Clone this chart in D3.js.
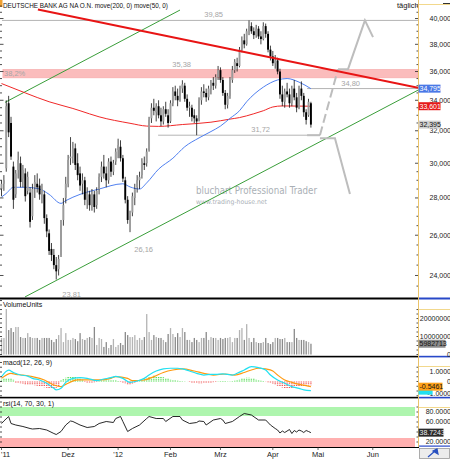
<!DOCTYPE html>
<html>
<head>
<meta charset="utf-8">
<script src="https://cdn.jsdelivr.net/npm/d3@7"></script>
<style>
body { margin: 0; background: #fff; }
svg { display: block; }
</style>
</head>
<body>
<div id="chart"></div>
<script>
// daily candles [open, high, low, close], index = trading day
const ohlc = [
  [28.5,29.0,28.1,28.8],[28.8,29.3,28.4,29.0],[29.7,34.0,29.5,33.6],[33.8,34.3,31.6,31.9],[32.5,32.9,30.2,30.4],
  [29.8,30.1,27.4,27.9],[28.2,29.6,28.0,29.4],[29.6,30.7,29.1,30.2],[30.0,30.4,28.6,28.9],[29.1,29.9,28.6,29.6],
  [29.4,29.7,27.8,28.1],[28.4,29.5,28.2,29.2],[28.3,28.6,26.4,26.7],[27.0,28.8,26.8,28.5],[28.6,29.3,28.0,28.9],
  [28.8,29.4,28.3,28.6],[28.7,29.1,27.9,28.2],[28.3,28.8,27.7,28.5],[28.2,28.4,26.6,26.9],[26.9,27.1,25.9,26.2],
  [26.1,26.3,25.0,25.2],[25.3,25.6,24.7,25.0],[25.0,25.3,24.3,24.5],[24.5,24.9,23.81,24.2],[24.3,25.0,24.0,24.8],
  [25.0,26.8,24.9,26.5],[26.8,28.0,26.5,27.6],[28.0,29.2,27.7,28.8],[28.8,30.5,28.6,30.2],[30.3,31.6,29.9,30.4],
  [30.4,31.3,30.0,30.9],[30.9,31.2,29.6,29.9],[30.0,30.6,29.0,29.3],[29.4,29.8,28.4,28.7],[28.8,29.4,28.2,29.0],
  [29.0,29.2,27.6,27.9],[27.9,28.6,27.4,28.3],[28.2,28.4,27.3,27.6],[27.6,28.5,27.3,28.2],[28.2,28.4,27.2,27.5],
  [27.6,28.6,27.4,28.4],[28.5,29.4,28.2,29.2],[29.2,30.1,28.9,29.8],[29.8,30.5,29.1,29.4],[29.4,29.8,28.6,29.0],
  [29.0,30.3,28.8,30.1],[30.1,30.4,29.2,29.5],[29.5,30.2,29.3,30.0],[30.1,30.9,29.9,30.7],[30.8,31.5,30.3,31.1],
  [31.0,31.4,30.1,30.3],[30.3,30.5,28.9,29.1],[29.0,29.2,27.7,27.9],[27.9,28.1,26.6,26.8],[26.8,27.3,26.16,27.0],
  [27.2,28.3,27.0,28.1],[28.0,28.8,27.6,28.5],[28.6,29.3,28.3,29.0],[29.0,29.5,28.5,29.2],[29.3,30.3,29.1,30.1],
  [30.0,30.4,29.6,29.9],[30.0,30.9,29.8,30.7],[30.8,32.9,30.7,32.7],[32.8,33.8,32.5,33.5],[33.5,34.1,33.0,33.3],
  [33.2,33.8,32.6,33.6],[33.6,34.0,32.8,33.0],[33.0,33.5,32.3,32.6],[32.6,33.6,32.4,33.4],[33.4,33.9,32.9,33.1],
  [33.0,33.4,32.2,32.5],[32.6,34.0,32.5,33.8],[33.8,34.9,33.6,34.6],[34.6,35.0,34.0,34.3],[34.3,34.8,33.6,34.0],
  [34.0,35.0,33.9,34.8],[34.8,35.38,34.5,35.1],[35.0,35.2,33.9,34.1],[34.1,34.4,33.3,33.5],[33.5,33.9,32.9,33.6],
  [33.5,33.7,32.6,32.9],[33.0,33.4,32.5,32.8],[32.8,33.0,31.72,32.6],[32.7,34.2,32.6,34.0],[34.0,34.9,33.7,34.6],
  [34.6,35.1,34.2,34.5],[34.5,34.8,33.9,34.2],[34.2,35.0,34.0,34.8],[34.8,35.4,34.4,35.2],[35.2,35.6,34.7,35.0],
  [35.0,35.8,34.8,35.6],[35.6,36.4,35.4,36.1],[36.1,36.3,35.2,35.4],[35.4,35.6,34.3,34.5],[34.5,34.7,33.4,33.7],
  [33.7,34.5,33.45,34.3],[34.3,35.6,34.1,35.4],[35.4,36.4,35.2,36.1],[36.1,36.9,35.9,36.7],[36.6,37.0,36.0,36.4],
  [36.4,37.8,36.3,37.6],[37.6,38.6,37.4,38.3],[38.3,38.8,37.7,38.0],[38.0,39.2,37.9,39.0],[39.0,39.85,38.7,39.4],
  [39.4,39.7,38.8,39.0],[39.0,39.3,38.4,38.7],[38.7,39.5,38.5,39.2],[39.2,39.4,38.4,38.6],[38.6,39.0,38.0,38.4],
  [38.4,39.7,38.3,39.4],[39.4,39.6,38.5,38.8],[38.8,39.0,37.4,37.6],[37.6,37.9,36.8,37.1],[37.1,37.5,36.4,36.6],
  [36.6,37.2,36.2,36.8],[36.8,37.0,35.8,36.0],[36.0,36.2,34.1,34.4],[34.4,35.0,33.6,33.9],[33.9,34.8,33.5,34.6],
  [34.6,35.2,34.2,34.4],[34.4,34.8,33.5,33.8],[33.8,35.0,33.6,34.8],[34.8,35.4,34.0,34.2],[34.2,34.5,33.2,33.5],
  [33.5,35.0,33.4,34.8],[34.8,35.3,34.0,34.3],[34.3,34.5,32.9,33.2],[33.2,33.4,32.4,32.7],[33.0,34.1,32.9,33.9],
  [33.8,33.9,32.2,32.395]
];

// volume in millions
const volume = [
  9.2,9.2,25.3,13.6,14.7,12.5,15.3,15.3,9.7,9.2,9.2,11.9,9.7,9.2,9.2,9.2,8.1,9.2,9.2,9.2,
  9.2,8.1,6.9,8.6,10.8,14.7,6.9,11.9,8.1,8.1,9.2,8.6,7.4,11.9,8.6,8.1,9.2,9.7,9.2,15.3,
  5.3,9.2,8.6,4.2,6.9,3.6,5.3,8.6,4.2,5.3,6.4,5.3,12.5,10.8,9.7,9.7,10.8,8.1,9.2,8.1,
  9.7,22.5,12.5,8.1,10.8,9.7,9.2,9.2,8.1,6.9,11.4,14.7,11.4,9.7,11.9,9.7,14.7,12.5,8.1,8.1,
  6.9,9.2,8.1,6.9,9.2,9.2,12.5,8.1,9.7,9.2,9.2,8.1,9.2,8.6,
  9.2,9.2,9.7,6.9,9.2,9.2,13.6,14.7,8.1,16.9,9.2,6.9,9.2,6.9,6.4,6.4,6.9,9.2,6.4,5.8,
  6.9,9.2,9.2,8.6,8.6,9.2,6.9,6.9,6.9,14.2,9.2,8.1,8.1,8.1,7.4,6.9,5.98
];

// moving averages [day, value]
const ma200 = [[0,35.15],[10,34.5],[20,33.9],[30,33.45],[33,33.3],[41,32.9],[54,32.48],[61,32.3],[66,32.28],
  [76,32.4],[88,32.55],[96,32.75],[100,32.85],[106,33.1],[110,33.3],[114,33.55],[118,33.62],[130,33.601]];
const ma50 = [[0,28.05],[2,28.25],[5,28.6],[10,28.6],[16,28.5],[20,28.2],[25,27.7],[27,27.85],[33,28.2],
  [41,28.5],[51,28.8],[54,28.62],[58,28.5],[61,28.85],[66,29.65],[72,30.3],[77,31.0],[83,31.55],[88,31.95],
  [92,32.3],[96,32.8],[100,33.3],[103,33.9],[110,34.9],[116,35.4],[120,35.5],[125,35.25],[130,34.795]];

// drawn trend lines [day, price]
const trendRed = [[15.3,40.72],[175,34.85]];
const channelUpper = [[1.5,33.86],[75,40.68]];
const channelLower = [[9.9,23.0],[175,34.69]];
const projUp = [[128.4,31.72],[133.8,31.72],[141.4,36.17],[145.6,36.17],[152.7,39.85],[156.1,38.55]];
const projDown = [[133.8,31.53],[140.1,31.53],[146.4,28.22]];

// horizontal marks
const levels = [
  {v: 39.85, from: 0.2, to: 175, label: "39,85", lx: 223},
  {v: 31.72, from: 65.8, to: 133.8, label: "31,72", lx: 270},
  {v: 34.80, from: 128.4, to: 175, label: "34,80", lx: 360}
];
const fibBand = [35.55, 36.15];
const priceNotes = [["35,38", 191, 36.3], ["26,16", 153, 25.15], ["23,81", 81, 23.0]];

// indicators
const macdLine = [[0,0.5],[3,1.2],[5,0.95],[8,0.68],[11,0.57],[13,0.33],[16,0.16],[19,-0.19],[22,-0.72],
  [23,-0.89],[25,-0.72],[27,-0.09],[30,0.33],[33,0.4],[36,0.33],[40,0.09],[43,0.26],[46,0.4],[48,0.54],
  [51,0.33],[54,-0.09],[57,0.05],[60,0.33],[62,0.68],[65,1.1],[68,1.32],[71,1.39],[74,1.39],[76,1.32],
  [79,1.1],[82,0.86],[85,0.68],[88,0.75],[90,0.75],[93,0.8],[97,0.68],[99,0.86],[102,1.21],[105,1.56],
  [108,1.46],[111,1.21],[113,0.68],[116,0.16],[119,-0.19],[122,-0.54],[125,-0.72],[127,-0.89],[130,-0.96]];
const macdSignal = [[0,0.33],[4,0.86],[6,0.75],[9,0.68],[13,0.51],[18,0.16],[22,-0.37],[25,-0.54],[27,-0.3],
  [32,0.16],[36,0.16],[41,0.16],[46,0.33],[48,0.51],[53,0.33],[55,0.09],[60,0.16],[64,0.51],[68,0.95],
  [72,1.21],[76,1.32],[81,1.1],[85,0.86],[89,0.68],[94,0.79],[98,0.68],[102,0.95],[105,1.21],[108,1.39],
  [111,1.32],[114,1.1],[116,0.68],[119,0.16],[122,-0.09],[125,-0.3],[128,-0.44],[130,-0.5461]];
const macdHist = [
  0.2,0.3,0.35,0.35,0.3,0.2,
  -0.1,-0.15,-0.2,-0.25,-0.3,-0.3,-0.3,-0.35,-0.4,-0.45,-0.5,-0.55,-0.6,-0.65,-0.7,-0.72,-0.72,-0.65,-0.5,
  0.1,0.25,0.4,0.5,0.55,0.55,0.5,0.4,0.3,0.2,
  -0.05,-0.1,-0.12,-0.1,-0.08,-0.05,
  0.05,0.1,0.15,0.18,0.2,0.18,0.15,0.1,0.05,
  -0.05,-0.12,-0.2,-0.28,-0.3,-0.25,-0.15,-0.05,
  0.05,0.15,0.25,0.35,0.45,0.55,0.6,0.6,0.55,0.5,0.45,0.35,0.3,0.2,0.15,
  0.1,0.08,0.05,0.04,0.02,0.0,
  -0.05,-0.1,-0.15,-0.18,-0.2,-0.2,-0.18,-0.15,-0.12,-0.1,-0.07,-0.05,
  0.03,0.05,0.05,0.04,0.03,
  0.03,0.05,0.08,
  0.12,0.2,0.28,0.35,0.4,0.4,0.35,0.3,0.22,0.15,
  0.08,0.04,-0.02,
  -0.08,-0.15,-0.25,-0.35,-0.45,-0.55,-0.62,-0.68,-0.7,-0.7,-0.68,-0.65,-0.6,-0.55,-0.5,-0.48,-0.45,-0.42,-0.4
];
const rsi = [[0,57],[1,62],[3,71],[4,57],[6,54],[9,51],[12,47],[13,46],[16,47],[19,44],[22,37],[23,35],[25,41],
  [27,54],[29,62],[30,61],[33,54],[36,49],[39,51],[41,57],[44,61],[47,59],[48,67],[50,71],[51,61],[53,41],
  [55,47],[58,54],[61,67],[62,71],[65,67],[68,67],[69,61],[72,71],[75,71],[76,64],[79,57],[82,59],[83,62],
  [85,61],[86,54],[89,64],[92,67],[93,64],[94,57],[97,61],[100,71],[102,77],[105,74],[108,64],[111,64],
  [113,54],[115,47],[116,44],[117,38],[118,42],[119,39],[121,45],[122,37],[123,43],[124,40],[125,44],
  [126,42],[127,39],[128,43],[129,41],[130,38.7]];
const rsiBands = [[72, 90, "#aef5ae"], [10, 28, "#ffb0b0"]];

// axis ticks
const monthTicks = [["'11", 0], ["Dez", 28], ["'12", 49], ["Feb", 71], ["Mrz", 92], ["Apr", 114], ["Mai", 133], ["Jun", 156]];
const priceTicks = [24, 26, 28, 30, 32, 34, 36, 38, 40];
const volTicks = [[0, "0"], [10, "10000000"], [20, "20000000"]];
const macdTicks = [[1, "1.0000"], [0, "0"], [-1.25, "-1.0000"]];
const rsiTicks = [[80, "80.0000"], [60, "60.0000"], [20, "20.0000"]];

const W = 450, H = 459, PR = 418;
const FONT = '"Liberation Sans", Arial, sans-serif';

const svg = d3.select("#chart").append("svg")
    .attr("width", W).attr("height", H)
    .style("font-family", FONT);
svg.append("rect").attr("width", W).attr("height", H).attr("fill", "#fff");

const x = d3.scaleLinear().domain([0, 175]).range([1.5, PR]);
const y = d3.scaleLog().domain([22.95, 41.5]).range([298, 0]);
const yVol = d3.scaleLinear().domain([0, 30.3]).range([354.5, 300]);
const yMacd = d3.scaleLinear().domain([-1.63, 2.47]).range([397, 358]);
const yRsi = d3.scaleLinear().domain([10, 108]).range([447, 398]);

const defs = svg.append("defs");
function clip(id, top, bottom) {
    defs.append("clipPath").attr("id", id).append("rect")
        .attr("x", 0).attr("y", top).attr("width", PR).attr("height", bottom - top);
    return svg.append("g").attr("clip-path", "url(#" + id + ")");
}
const main = clip("cMain", 0, 298);
const volG = clip("cVol", 300, 356);
const macdG = clip("cMacd", 358, 397);
const rsiG = clip("cRsi", 399, 447);

// ---- main panel
main.append("rect")
    .attr("x", x(0.6)).attr("width", PR - x(0.6))
    .attr("y", y(fibBand[1])).attr("height", y(fibBand[0]) - y(fibBand[1]))
    .attr("fill", "#fbbcbc").attr("stroke", "#f6a8a8").attr("stroke-width", 0.6);

main.selectAll(".lvl").data(levels).join("line")
    .attr("x1", d => x(d.from)).attr("x2", d => x(d.to))
    .attr("y1", d => y(d.v)).attr("y2", d => y(d.v))
    .attr("stroke", "#b4b4b4").attr("stroke-width", 1);

const gridText = "#a6a6a6";
main.selectAll(".lvlText").data(levels).join("text")
    .attr("x", d => d.lx).attr("y", d => y(d.v) - 3)
    .attr("text-anchor", "end").attr("font-size", 7.5).attr("fill", gridText)
    .text(d => d.label);
main.selectAll(".note").data(priceNotes).join("text")
    .attr("x", d => d[1]).attr("y", d => y(d[2]))
    .attr("text-anchor", "end").attr("font-size", 7.5).attr("fill", gridText)
    .text(d => d[0]);
main.append("text").attr("x", 4).attr("y", y(fibBand[0]) - 1.5)
    .attr("font-size", 7.5).attr("fill", gridText).text("38,2%");

// watermark
main.append("text").attr("x", 196).attr("y", 194)
    .attr("font-family", "DejaVu Sans").attr("font-size", 10).attr("fill", "#aab0b6")
    .attr("textLength", 121).attr("lengthAdjust", "spacingAndGlyphs")
    .text("bluchart Professional Trader");
main.append("text").attr("x", 196).attr("y", 203.5)
    .attr("font-family", "DejaVu Sans").attr("font-size", 6.5).attr("fill", "#aab0b6")
    .attr("textLength", 71).attr("lengthAdjust", "spacingAndGlyphs")
    .text("www.trading-house.net");

const pline = d3.line().x(d => x(d[0])).y(d => y(d[1]));
const smooth = d3.line().x(d => x(d[0])).y(d => y(d[1])).curve(d3.curveMonotoneX);

main.append("path").attr("d", pline(channelUpper)).attr("fill", "none")
    .attr("stroke", "#3a9e3a").attr("stroke-width", 1);
main.append("path").attr("d", pline(channelLower)).attr("fill", "none")
    .attr("stroke", "#3a9e3a").attr("stroke-width", 1);
main.append("path").attr("d", smooth(ma200)).attr("fill", "none")
    .attr("stroke", "#f02828").attr("stroke-width", 1);
main.append("path").attr("d", smooth(ma50)).attr("fill", "none")
    .attr("stroke", "#5080f0").attr("stroke-width", 1);

// projection
main.append("path").attr("d", pline(projUp.slice(0, 2))).attr("fill", "none")
    .attr("stroke", "#bdbdbd").attr("stroke-width", 2);
main.append("path").attr("d", pline(projUp.slice(1, 3))).attr("fill", "none")
    .attr("stroke", "#bdbdbd").attr("stroke-width", 2).attr("stroke-dasharray", "9,4");
main.append("path").attr("d", pline(projUp.slice(2))).attr("fill", "none")
    .attr("stroke", "#bdbdbd").attr("stroke-width", 2);
main.append("path").attr("d", pline(projDown)).attr("fill", "none")
    .attr("stroke", "#bdbdbd").attr("stroke-width", 2);

// candles
main.selectAll(".wick").data(ohlc).join("line")
    .attr("x1", (d, i) => x(i)).attr("x2", (d, i) => x(i))
    .attr("y1", d => y(d[1])).attr("y2", d => y(d[2]))
    .attr("stroke", "#111").attr("stroke-width", 0.8);
main.selectAll(".body").data(ohlc).join("rect")
    .attr("x", (d, i) => x(i) - 0.95).attr("width", 1.9)
    .attr("y", d => y(Math.max(d[0], d[3])))
    .attr("height", d => Math.max(0.8, Math.abs(y(d[0]) - y(d[3]))))
    .attr("fill", d => d[3] >= d[0] ? "#9c9c9c" : "#000");

main.append("path").attr("d", pline(trendRed)).attr("fill", "none")
    .attr("stroke", "#e81414").attr("stroke-width", 2);

// title
svg.append("rect").attr("x", 0).attr("y", 0).attr("width", 2.5).attr("height", 7).attr("fill", "#f0a030");
svg.append("text").attr("x", 3).attr("y", 7.5).attr("font-size", 7.5).attr("fill", "#111")
    .attr("textLength", 165).attr("lengthAdjust", "spacingAndGlyphs")
    .text("DEUTSCHE BANK AG NA O.N. move(200, 0) move(50, 0)");
svg.append("text").attr("x", 397).attr("y", 7.5).attr("font-size", 7.5).attr("fill", "#111").text("täglich");
svg.append("line").attr("x1", 443).attr("x2", 450).attr("y1", 3.5).attr("y2", 3.5).attr("stroke", "#333");

// ---- volume
volG.selectAll("rect").data(volume).join("rect")
    .attr("x", (d, i) => x(i) - 0.6).attr("width", 1.3)
    .attr("y", d => yVol(d)).attr("height", d => yVol(0) - yVol(d))
    .attr("fill", (d, i) => ohlc[i][3] >= ohlc[i][0] ? "#b4b4b4" : "#8a8a8a");
svg.append("text").attr("x", 3).attr("y", 307).attr("font-size", 7).attr("fill", "#111").text("VolumeUnits");

// ---- macd
macdG.selectAll("line").data(macdHist).join("line")
    .attr("x1", (d, i) => x(i)).attr("x2", (d, i) => x(i))
    .attr("y1", yMacd(0)).attr("y2", d => yMacd(d))
    .attr("stroke", d => d >= 0 ? "#55dd55" : "#f05a5a")
    .attr("stroke-width", 1.4).attr("stroke-dasharray", "1,0.8");
const mline = d3.line().x(d => x(d[0])).y(d => yMacd(d[1])).curve(d3.curveMonotoneX);
macdG.append("path").attr("d", mline(macdSignal)).attr("fill", "none")
    .attr("stroke", "#ff9a10").attr("stroke-width", 1.2);
macdG.append("path").attr("d", mline(macdLine)).attr("fill", "none")
    .attr("stroke", "#22e0f0").attr("stroke-width", 1.2);
svg.append("text").attr("x", 3).attr("y", 365).attr("font-size", 7).attr("fill", "#111").text("macd(12, 26, 9)");

// ---- rsi
rsiG.selectAll("rect").data(rsiBands).join("rect")
    .attr("x", 0).attr("width", PR - 3)
    .attr("y", d => yRsi(d[1])).attr("height", d => yRsi(d[0]) - yRsi(d[1]))
    .attr("fill", d => d[2]);
const rline = d3.line().x(d => x(d[0])).y(d => yRsi(d[1]));
rsiG.append("path").attr("d", rline(rsi)).attr("fill", "none")
    .attr("stroke", "#111").attr("stroke-width", 0.9);
svg.append("text").attr("x", 3).attr("y", 406).attr("font-size", 7).attr("fill", "#111").text("rsi(14, 70, 30, 1)");

// ---- left edge ticks
const leftTicks = svg.append("g").attr("stroke", "#222").attr("stroke-width", 0.8);
d3.range(23.5, 41.5, 0.5).forEach(v => {
    leftTicks.append("line").attr("x1", 0).attr("x2", v % 2 === 0 ? 3.5 : 2).attr("y1", y(v)).attr("y2", y(v));
});
[[yVol, d3.range(0, 31, 2.5)], [yMacd, d3.range(-1.5, 2.5, 0.5)], [yRsi, d3.range(20, 108, 10)]].forEach(([s, vals]) => {
    vals.forEach(v => leftTicks.append("line").attr("x1", 0).attr("x2", 2).attr("y1", s(v)).attr("y2", s(v)));
});

// ---- panel separators
[[297.5, 2], [355.8, 1.6], [396.8, 1.6]].forEach(([yy, h]) => {
    svg.append("rect").attr("x", 0).attr("y", yy).attr("width", PR).attr("height", h).attr("fill", "#000");
    svg.append("rect").attr("x", PR + 1).attr("y", yy).attr("width", W - PR - 1).attr("height", h).attr("fill", "#2848c8");
});
svg.append("rect").attr("x", PR + 1).attr("y", 445.5).attr("width", W - PR - 1).attr("height", 1.2).attr("fill", "#2848c8");

// ---- right axis column
svg.append("line").attr("x1", PR + 0.5).attr("x2", PR + 0.5).attr("y1", 0).attr("y2", 447)
    .attr("stroke", "#eac36a").attr("stroke-width", 1);
[4.5, 309.5, 366.5, 407.5].forEach(yy => svg.append("line")
    .attr("x1", PR + 1).attr("x2", W).attr("y1", yy).attr("y2", yy).attr("stroke", "#f2d88c").attr("stroke-width", 1));

const rTicks = svg.append("g").attr("stroke", "#222").attr("stroke-width", 0.8);
d3.range(23.5, 41.5, 0.5).forEach(v => rTicks.append("line")
    .attr("x1", PR - (v % 2 === 0 ? 3 : 1.5)).attr("x2", PR).attr("y1", y(v)).attr("y2", y(v)));
[[yVol, d3.range(0, 26, 2.5)], [yMacd, d3.range(-1.5, 1.6, 0.5)], [yRsi, d3.range(20, 91, 10)]].forEach(([s, vals]) => {
    vals.forEach(v => rTicks.append("line").attr("x1", PR - 1.5).attr("x2", PR).attr("y1", s(v)).attr("y2", s(v)));
});

const axisText = svg.append("g").attr("font-size", 7).attr("fill", "#222").attr("text-anchor", "end");
priceTicks.forEach(v => axisText.append("text").attr("x", 451).attr("y", y(v)).attr("dy", "0.35em")
    .text(v.toFixed(3).replace(".", ",")));
volTicks.forEach(([v, t]) => axisText.append("text").attr("x", 451).attr("y", yVol(v)).attr("dy", "0.35em").text(t));
macdTicks.forEach(([v, t]) => axisText.append("text").attr("x", 451).attr("y", yMacd(v)).attr("dy", "0.35em").text(t));
rsiTicks.forEach(([v, t]) => axisText.append("text").attr("x", 451).attr("y", yRsi(v)).attr("dy", "0.35em").text(t));

// last value boxes
const lastBoxes = [
    [y(34.795), "34,795", "#4a78e6", "#fff", 22],
    [y(33.601), "33,601", "#e61a1a", "#fff", 22],
    [y(32.395), "32,395", "#cfcfcf", "#111", 22],
    [yVol(5.98), "5982713", "#8c8c8c", "#111", 27],
    [yMacd(-0.96), "", "#22e0f0", "#111", 14],
    [yMacd(-0.5461), "-0.5461", "#ffa21a", "#111", 24],
    [yRsi(38.7), "38.7243", "#2a2a2a", "#eee", 25]
];
lastBoxes.forEach(([yy, t, bg, fg, w]) => {
    svg.append("rect").attr("x", PR + 0.5).attr("y", yy - 4).attr("width", w).attr("height", 8).attr("fill", bg);
    if (t) svg.append("text").attr("x", PR + 1.5).attr("y", yy).attr("dy", "0.35em")
        .attr("font-size", 7).attr("fill", fg).text(t);
});

// ---- time axis
svg.append("line").attr("x1", 0).attr("x2", PR + 1).attr("y1", 447.5).attr("y2", 447.5)
    .attr("stroke", "#000").attr("stroke-width", 1);
const xa = svg.append("g").attr("font-size", 7.5).attr("fill", "#222");
monthTicks.forEach(([t, i], k) => {
    xa.append("line").attr("x1", x(i)).attr("x2", x(i)).attr("y1", 447.5).attr("y2", 450)
        .attr("stroke", "#444").attr("stroke-width", 0.8);
    xa.append("text").attr("x", k === 0 ? 1 : x(i)).attr("y", 457)
        .attr("text-anchor", k === 0 ? "start" : "middle").text(t);
});

// corner button
svg.append("rect").attr("x", PR + 1.5).attr("y", 448.5).attr("width", W - PR - 2).attr("height", 10)
    .attr("fill", "#ececec").attr("stroke", "#9a9a9a").attr("stroke-width", 0.8);
svg.append("path").attr("d", "M428,457 L435,451 M433,451 L437,449 L438,454 Z")
    .attr("stroke", "#2850c0").attr("stroke-width", 1.2).attr("fill", "#2850c0");
</script>
</body>
</html>
